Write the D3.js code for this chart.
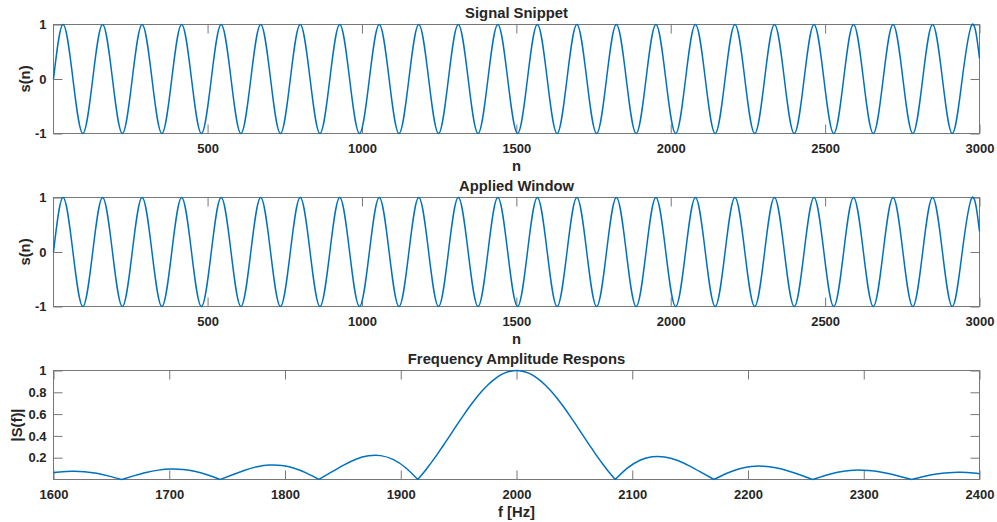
<!DOCTYPE html>
<html>
<head>
<meta charset="utf-8">
<script src="https://cdn.jsdelivr.net/npm/d3@7/dist/d3.min.js"></script>
<style>
  body { margin: 0; background: #fff; }
  svg { display: block; }
</style>
</head>
<body>
<script>
// ---- data ----
// signal snippet: sample index of crests, troughs and zero crossings
var peakN = [32, 160, 288, 416, 544, 672, 800, 928, 1056, 1184, 1312, 1440,
             1568, 1696, 1824, 1952, 2080, 2208, 2336, 2464, 2592, 2720, 2848, 2976];
var troughN = [96, 224, 352, 480, 608, 736, 864, 992, 1120, 1248, 1376, 1504,
               1632, 1760, 1888, 2016, 2144, 2272, 2400, 2528, 2656, 2784, 2912];
var zeroN = [1, 64, 128, 192, 256, 320, 384, 448, 512, 576, 640, 704, 768, 832, 896,
             960, 1024, 1088, 1152, 1216, 1280, 1344, 1408, 1472, 1536, 1600, 1664,
             1728, 1792, 1856, 1920, 1984, 2048, 2112, 2176, 2240, 2304, 2368, 2432,
             2496, 2560, 2624, 2688, 2752, 2816, 2880, 2944];
var lastSample = [3000, 0.38];
var rectWindow = 1; // applied window is rectangular

// frequency amplitude response |S(f)|
var freqHz = [1600, 1605.3, 1616, 1626.7, 1637.3, 1648, 1658.7,
  1669.3, 1680, 1690.7, 1701.3, 1712, 1722.7, 1733.3, 1744,
  1754.7, 1765.3, 1776, 1786.7, 1797.3, 1808, 1818.7, 1829.3,
  1840, 1850.7, 1861.3, 1872, 1882.7, 1893.3, 1904, 1914.7,
  1920, 1925, 1930, 1935, 1940, 1945, 1950, 1955, 1960, 1965, 1970, 1975, 1980, 1985, 1990, 1995,
  2000, 2005, 2010, 2015, 2020, 2025, 2030, 2035, 2040, 2045, 2050, 2055, 2060, 2065, 2070, 2075, 2080, 2085.3,
  2096, 2106.7, 2117.3, 2128, 2138.7, 2149.3, 2160, 2170.7,
  2181.3, 2192, 2202.7, 2213.3, 2224, 2234.7, 2245.3, 2256,
  2266.7, 2277.3, 2288, 2298.7, 2309.3, 2320, 2330.7, 2341.3,
  2352, 2362.7, 2373.3, 2384, 2394.7, 2400];
var ampS = [0.061, 0.068, 0.076, 0.072, 0.057, 0.031, 0,
  0.033, 0.064, 0.086, 0.096, 0.092, 0.073, 0.041, 0,
  0.044, 0.085, 0.117, 0.132, 0.128, 0.104, 0.059, 0,
  0.067, 0.132, 0.186, 0.217, 0.219, 0.184, 0.110, 0,
  0.066, 0.135, 0.207, 0.285, 0.363, 0.444, 0.524, 0.601, 0.676, 0.745, 0.809, 0.865, 0.912, 0.950, 0.978, 0.994,
  1, 0.994, 0.978, 0.950, 0.912, 0.865, 0.809, 0.745, 0.676, 0.601, 0.524, 0.444, 0.363, 0.285, 0.207, 0.135, 0.066, 0,
  0.106, 0.177, 0.209, 0.207, 0.176, 0.125, 0.063, 0,
  0.055, 0.097, 0.119, 0.122, 0.107, 0.078, 0.041, 0,
  0.037, 0.066, 0.083, 0.086, 0.077, 0.057, 0.030, 0,
  0.028, 0.050, 0.063, 0.066, 0.059, 0.052];

var sampleTicks = [500, 1000, 1500, 2000, 2500, 3000];
var signalTicks = [-1, 0, 1];
var freqTicks = [1600, 1700, 1800, 1900, 2000, 2100, 2200, 2300, 2400];
var ampTicks = [0.2, 0.4, 0.6, 0.8, 1];

// ---- build series ----
var signal = []
  .concat(peakN.map(function(n) { return [n, 1]; }))
  .concat(troughN.map(function(n) { return [n, -1]; }))
  .concat(zeroN.map(function(n) { return [n, 0]; }))
  .concat([lastSample])
  .sort(function(a, b) { return a[0] - b[0]; });
var windowed = signal.map(function(d) { return [d[0], d[1] * rectWindow]; });
var spectrum = freqHz.map(function(f, i) { return [f, ampS[i]]; });

var W = 997, H = 522;
var left = 53.5, right = 979.5, ph = 109;
var tick = 9;
var axisGrey = "#777", textCol = "#262626", lineCol = "#0072BD";
var font = "'Liberation Sans', Arial, Helvetica, sans-serif";
var plain = function(d) { return String(d); };

var svg = d3.select("body").append("svg")
    .attr("width", W)
    .attr("height", H);

function panel(o) {
  var top = o.top, bottom = top + ph;
  var x = d3.scaleLinear().domain(o.xDomain).range([left, right]);
  var y = d3.scaleLinear().domain(o.yDomain).range([bottom, top]);
  var g = svg.append("g");

  g.append("g").attr("transform", "translate(0," + bottom + ")")
      .call(d3.axisBottom(x).tickValues(o.xTicks).tickSize(-tick).tickSizeOuter(0)
        .tickPadding(10).tickFormat(plain));
  g.append("g").attr("transform", "translate(0," + top + ")")
      .call(d3.axisTop(x).tickValues(o.xTicks).tickSize(-tick).tickSizeOuter(0).tickFormat(""));
  g.append("g").attr("transform", "translate(" + left + ",0)")
      .call(d3.axisLeft(y).tickValues(o.yTicks).tickSize(-tick).tickSizeOuter(0)
        .tickPadding(7).tickFormat(plain));
  g.append("g").attr("transform", "translate(" + right + ",0)")
      .call(d3.axisRight(y).tickValues(o.yTicks).tickSize(-tick).tickSizeOuter(0).tickFormat(""));

  g.selectAll(".domain").remove();
  g.selectAll(".tick line").attr("stroke", axisGrey);
  g.selectAll(".tick text")
      .attr("fill", textCol)
      .attr("font-family", font)
      .attr("font-weight", "bold")
      .attr("font-size", 13);

  g.append("rect")
      .attr("x", left).attr("y", top)
      .attr("width", right - left).attr("height", ph)
      .attr("fill", "none")
      .attr("stroke", axisGrey);

  var line = d3.line()
      .x(function(d) { return x(d[0]); })
      .y(function(d) { return y(d[1]); })
      .curve(d3.curveNatural);

  // split at zero points when asked, so the nulls stay sharp
  var pieces = [o.data];
  if (o.splitAtZero) {
    pieces = [];
    var cur = [];
    o.data.forEach(function(d, i) {
      cur.push(d);
      if (d[1] === 0 && i > 0 && i < o.data.length - 1) { pieces.push(cur); cur = [d]; }
    });
    pieces.push(cur);
  }
  g.append("path")
      .attr("d", pieces.map(function(p) { return line(p); }).join(""))
      .attr("fill", "none")
      .attr("stroke", lineCol)
      .attr("stroke-width", 1.5);

  g.append("text")
      .text(o.title)
      .attr("x", (left + right) / 2).attr("y", top - 7)
      .attr("text-anchor", "middle")
      .attr("font-family", font).attr("font-weight", "bold").attr("font-size", 14.8)
      .attr("fill", textCol);
  g.append("text")
      .text(o.xLabel)
      .attr("x", (left + right) / 2).attr("y", bottom + 37.5)
      .attr("text-anchor", "middle")
      .attr("font-family", font).attr("font-weight", "bold").attr("font-size", 14.8)
      .attr("fill", textCol);
  g.append("text")
      .text(o.yLabel)
      .attr("transform", "translate(" + o.yLabelX + "," + (top + bottom) / 2 + ") rotate(-90)")
      .attr("text-anchor", "middle")
      .attr("font-family", font).attr("font-weight", "bold").attr("font-size", 14.8)
      .attr("fill", textCol);
}

panel({ top: 24.5, data: signal, xDomain: [1, 3000], yDomain: [-1, 1],
  xTicks: sampleTicks, yTicks: signalTicks,
  title: "Signal Snippet", xLabel: "n", yLabel: "s(n)", yLabelX: 29.5 });

panel({ top: 197.5, data: windowed, xDomain: [1, 3000], yDomain: [-1, 1],
  xTicks: sampleTicks, yTicks: signalTicks,
  title: "Applied Window", xLabel: "n", yLabel: "s(n)", yLabelX: 29.5 });

panel({ top: 370.5, data: spectrum, xDomain: [1600, 2400], yDomain: [0, 1],
  xTicks: freqTicks, yTicks: ampTicks, splitAtZero: true,
  title: "Frequency Amplitude Respons", xLabel: "f [Hz]", yLabel: "|S(f)|", yLabelX: 22 });
</script>
</body>
</html>
